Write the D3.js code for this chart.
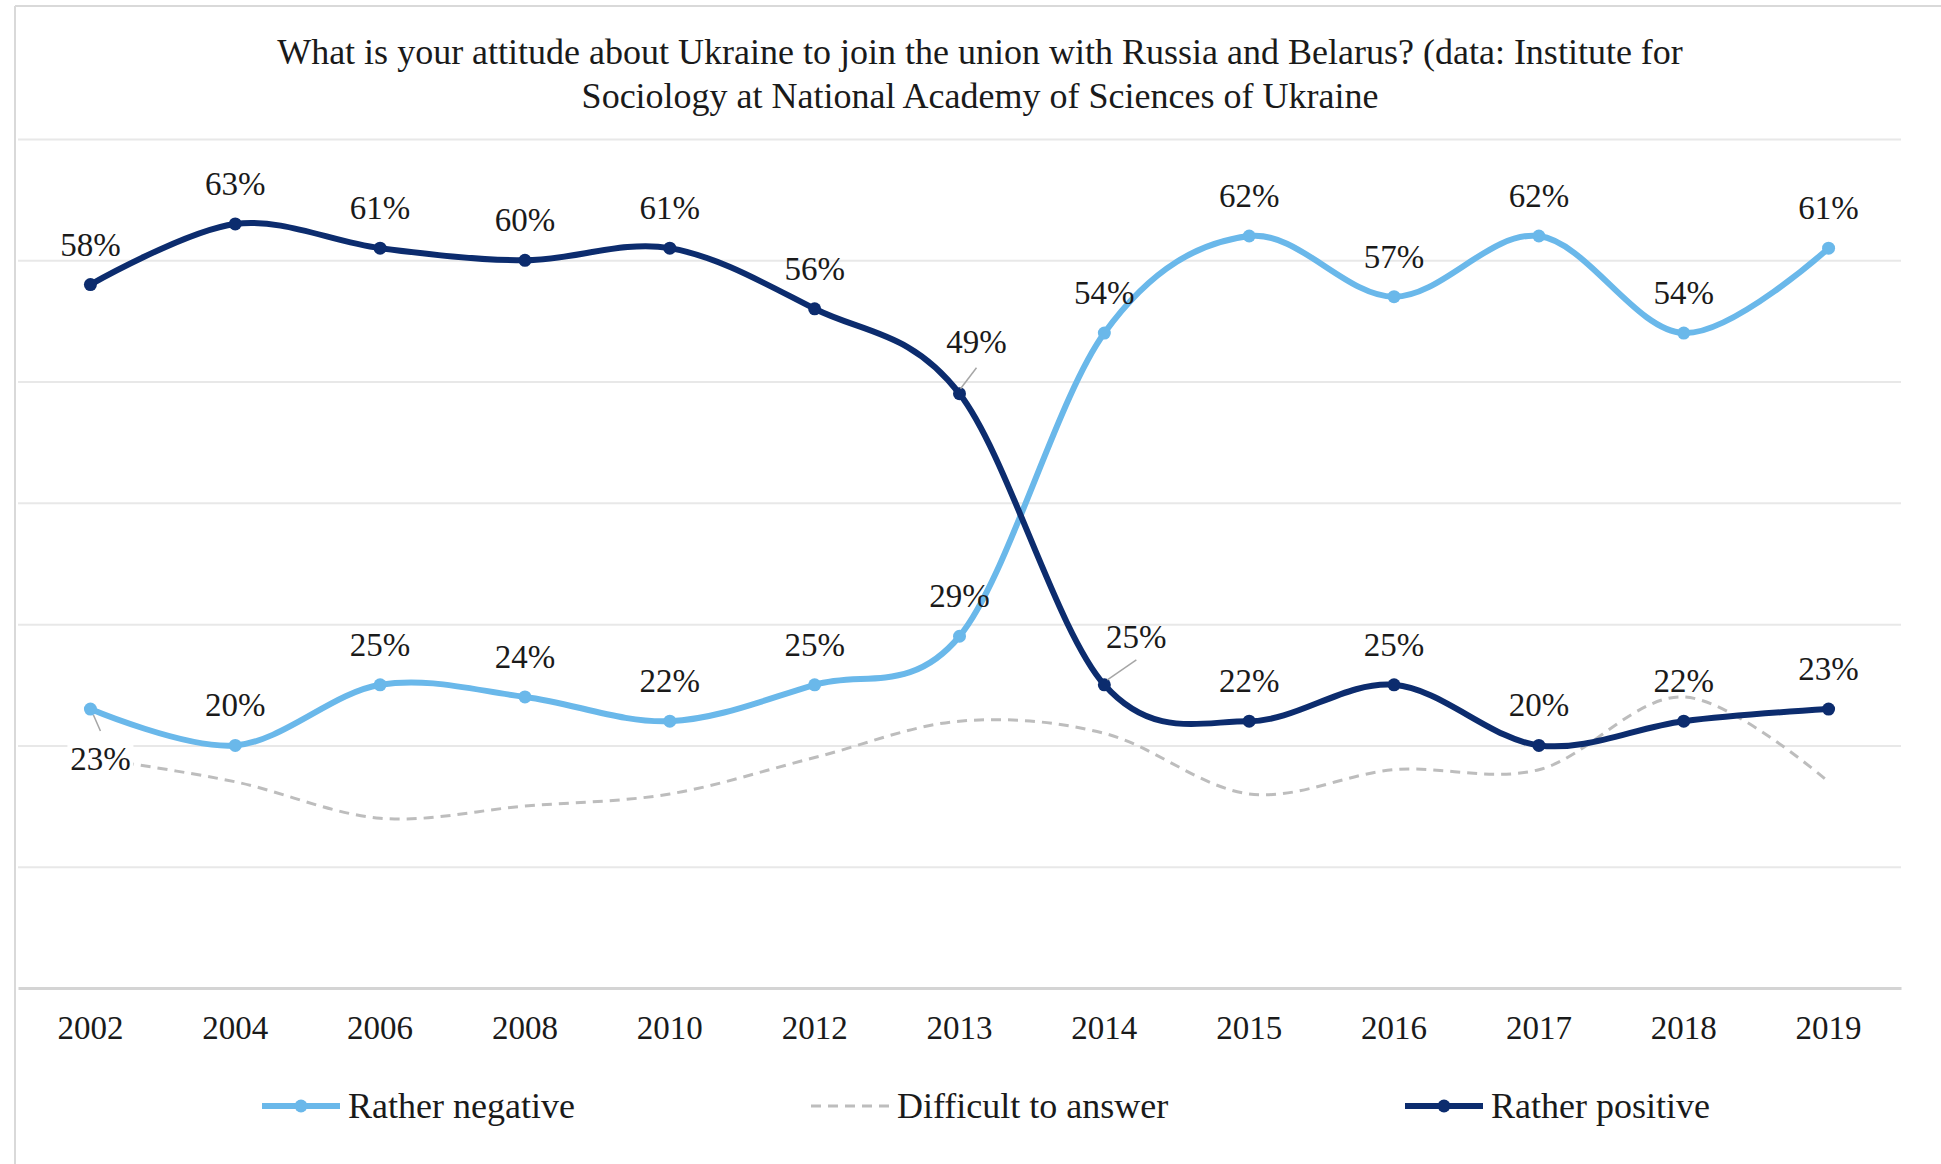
<!DOCTYPE html>
<html>
<head>
<meta charset="utf-8">
<script src="https://cdn.jsdelivr.net/npm/d3@7"></script>
<style>
  html, body { margin: 0; padding: 0; background: #fff; }
  svg { display: block; }
  text { font-family: "Liberation Serif", "Times New Roman", serif; fill: #1a1a1a; }
</style>
</head>
<body>
<svg id="chart" width="1941" height="1164"></svg>
<script>
// ---- data ----
const years = ["2002","2004","2006","2008","2010","2012","2013","2014","2015","2016","2017","2018","2019"];
const ratherNegative = [23, 20, 25, 24, 22, 25, 29, 54, 62, 57, 62, 54, 61];
const difficultToAnswer = [19, 17, 14, 15, 16, 19, 22, 21, 16, 18, 18, 24, 17];
const ratherPositive = [58, 63, 61, 60, 61, 56, 49, 25, 22, 25, 20, 22, 23];
const yTicks = [0, 10, 20, 30, 40, 50, 60, 70];
const seriesNames = ["Rather negative", "Difficult to answer", "Rather positive"];
const titleLines = [
  "What is your attitude about Ukraine to join the union with Russia and Belarus? (data: Institute for",
  "Sociology at National Academy of Sciences of Ukraine"
];

// ---- layout ----
const W = 1941, H = 1164;
const plot = { left: 18, right: 1901, top: 139, bottom: 988 };
const colors = { neg: "#6ab8ea", dif: "#bdbdbd", pos: "#0c2c6e" };

const svg = d3.select("#chart");

// border
svg.append("line").attr("x1", 15).attr("x2", 15).attr("y1", 6).attr("y2", H)
  .attr("stroke", "#d9d9d9").attr("stroke-width", 2);
svg.append("line").attr("x1", 15).attr("x2", W).attr("y1", 6).attr("y2", 6)
  .attr("stroke", "#d9d9d9").attr("stroke-width", 2);

const x = d3.scaleBand().domain(years).range([plot.left, plot.right]).padding(0);
const cx = d => x(d) + x.bandwidth() / 2;
const y = d3.scaleLinear().domain([0, 70]).range([plot.bottom, plot.top]);

// gridlines
const grid = svg.append("g").attr("transform", `translate(${plot.left},0)`)
  .call(d3.axisLeft(y).tickValues(yTicks.filter(v => v > 0)).tickSize(-(plot.right - plot.left)).tickFormat(""));
grid.select(".domain").remove();
grid.selectAll(".tick line").attr("stroke", "#e8e8e8").attr("stroke-width", 2);

// x axis
const xAxis = svg.append("g").attr("transform", `translate(0,${plot.bottom})`)
  .call(d3.axisBottom(x).tickSize(0).tickPadding(28));
xAxis.select(".domain").attr("stroke", "#d4d4d4").attr("stroke-width", 3);
xAxis.selectAll(".tick text").attr("font-size", 33).attr("fill", "#1a1a1a")
  .attr("font-family", "Liberation Serif, serif");

// title
const title = svg.append("text").attr("text-anchor", "middle").attr("font-size", 36);
titleLines.forEach((t, i) => {
  title.append("tspan").attr("x", 980).attr("y", 64 + i * 44).text(t);
});

const curve = d3.curveCatmullRom.alpha(0);
const lineGen = vals => d3.line().x((d, i) => cx(years[i])).y(d => y(d)).curve(curve)(vals);

// series: negative, difficult, positive
svg.append("path").attr("d", lineGen(ratherNegative)).attr("fill", "none")
  .attr("stroke", colors.neg).attr("stroke-width", 6).attr("stroke-linecap", "round");
svg.append("path").attr("d", lineGen(difficultToAnswer)).attr("fill", "none")
  .attr("stroke", colors.dif).attr("stroke-width", 3).attr("stroke-dasharray", "10,7");
svg.append("path").attr("d", lineGen(ratherPositive)).attr("fill", "none")
  .attr("stroke", colors.pos).attr("stroke-width", 6).attr("stroke-linecap", "round");

svg.append("g").selectAll("circle").data(ratherNegative).join("circle")
  .attr("cx", (d, i) => cx(years[i])).attr("cy", d => y(d)).attr("r", 6.5).attr("fill", colors.neg);
svg.append("g").selectAll("circle").data(ratherPositive).join("circle")
  .attr("cx", (d, i) => cx(years[i])).attr("cy", d => y(d)).attr("r", 6.5).attr("fill", colors.pos);

// labels
const labelFont = 33;
const overrides = {
  "neg-0": { dx: 10, dy: 61, leader: [[3, 6], [10, 22]], bg: true },
  "pos-6": { dx: 17, dy: -41, leader: [[1, -5], [17, -26]] },
  "pos-7": { dx: 32, dy: -37, leader: [[3, -5], [32, -25]] }
};
function drawLabels(vals, key) {
  const g = svg.append("g");
  vals.forEach((v, i) => {
    const px = cx(years[i]), py = y(v);
    const o = overrides[key + "-" + i] || { dx: 0, dy: -29 };
    if (o.leader) {
      g.append("line")
        .attr("x1", px + o.leader[0][0]).attr("y1", py + o.leader[0][1])
        .attr("x2", px + o.leader[1][0]).attr("y2", py + o.leader[1][1])
        .attr("stroke", "#a6a6a6").attr("stroke-width", 1.5);
    }
    if (o.bg) {
      g.append("rect").attr("x", px + o.dx - 33).attr("y", py + o.dy - 25)
        .attr("width", 66).attr("height", 31).attr("fill", "#fff");
    }
    g.append("text").attr("x", px + o.dx).attr("y", py + o.dy)
      .attr("text-anchor", "middle").attr("font-size", labelFont).text(v + "%");
  });
}
drawLabels(ratherNegative, "neg");
drawLabels(ratherPositive, "pos");

// legend
const legendY = 1106;
const legendItems = [
  { name: seriesNames[0], x0: 262, color: colors.neg, marker: true, dash: null, w: 6 },
  { name: seriesNames[1], x0: 811, color: colors.dif, marker: false, dash: "10,7", w: 3 },
  { name: seriesNames[2], x0: 1405, color: colors.pos, marker: true, dash: null, w: 6 }
];
const lg = svg.append("g");
legendItems.forEach(it => {
  lg.append("line").attr("x1", it.x0).attr("x2", it.x0 + 78).attr("y1", legendY).attr("y2", legendY)
    .attr("stroke", it.color).attr("stroke-width", it.w)
    .attr("stroke-dasharray", it.dash);
  if (it.marker) lg.append("circle").attr("cx", it.x0 + 39).attr("cy", legendY).attr("r", 6.5).attr("fill", it.color);
  lg.append("text").attr("x", it.x0 + 86).attr("y", legendY + 12).attr("font-size", 36).text(it.name);
});
</script>
</body>
</html>
